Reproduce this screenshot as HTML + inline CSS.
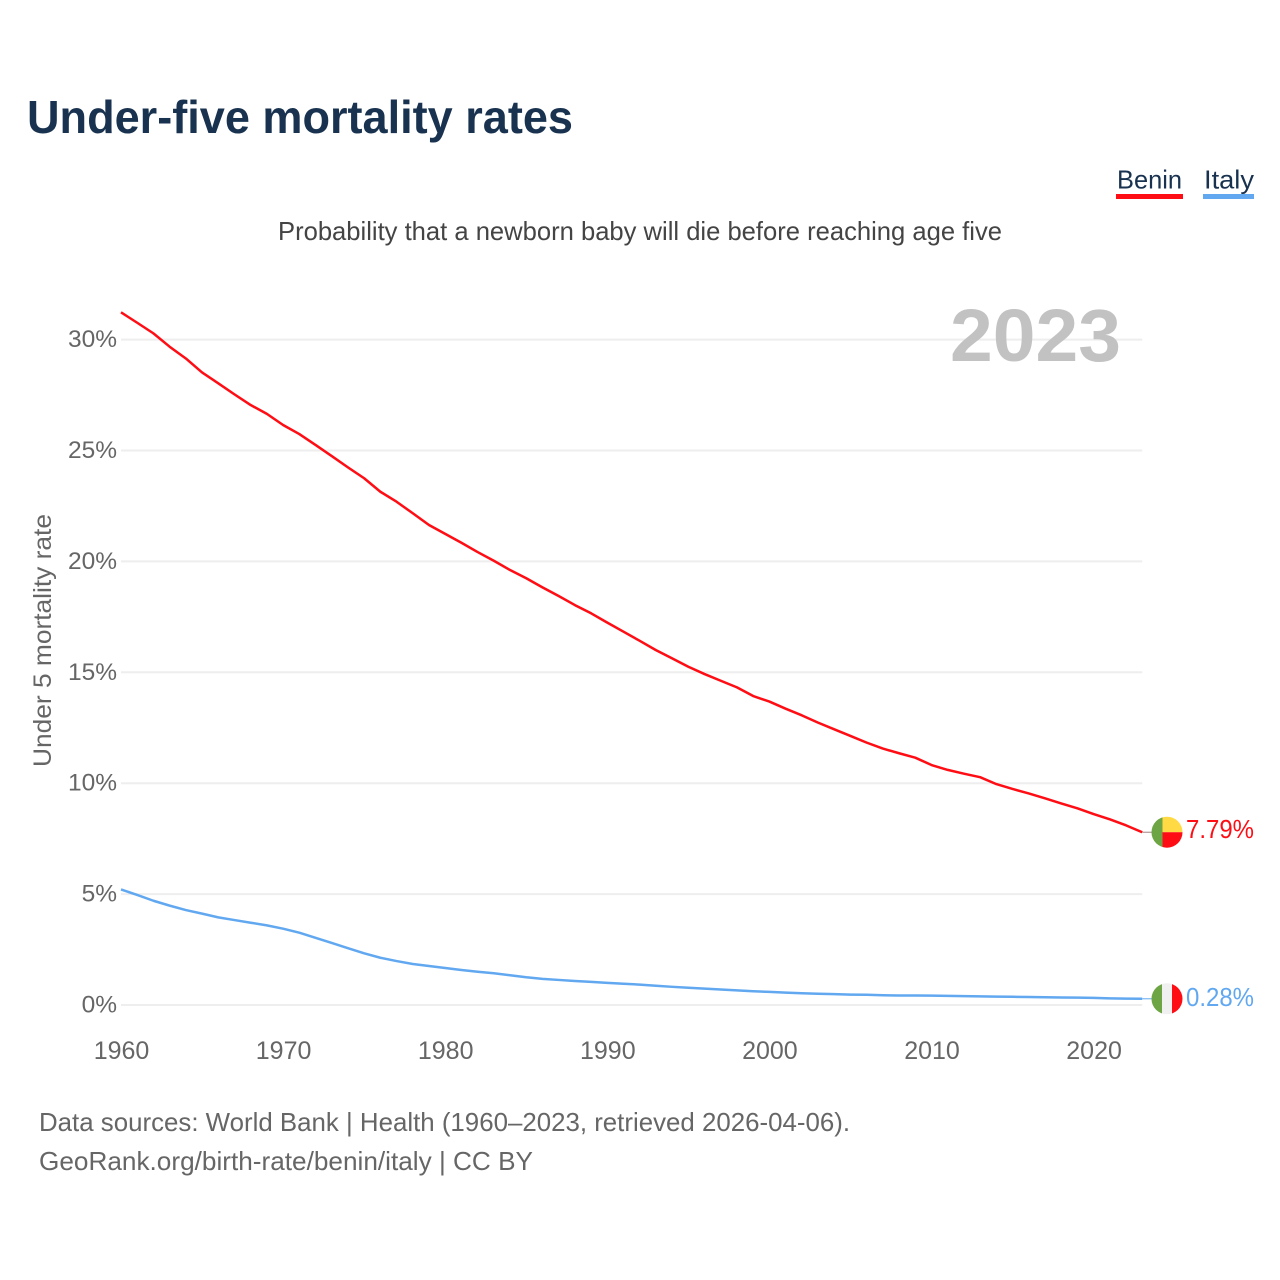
<!DOCTYPE html>
<html lang="en">
<head>
<meta charset="utf-8">
<title>Under-five mortality rates</title>
<style>
html,body{margin:0;padding:0;background:#fff;width:1280px;height:1280px;overflow:hidden}
svg{display:block}
text{font-family:"Liberation Sans",sans-serif}
</style>
</head>
<body>
<svg id="chart" width="1280" height="1280" viewBox="0 0 1280 1280" xmlns="http://www.w3.org/2000/svg">
  <rect width="1280" height="1280" fill="#fff"/>
  <text x="27" y="133" font-size="46" font-weight="700" fill="#18324f" textLength="546" lengthAdjust="spacingAndGlyphs">Under-five mortality rates</text>
  <g>
    <g>
      <text x="1117" y="188.5" font-size="26" fill="#18324f" textLength="65" lengthAdjust="spacingAndGlyphs">Benin</text>
      <rect x="1116" y="194" width="67" height="5" fill="#ff0d14"/>
    </g>
    <g>
      <text x="1204" y="188.5" font-size="26" fill="#18324f" textLength="50" lengthAdjust="spacingAndGlyphs">Italy</text>
      <rect x="1203" y="194" width="51" height="5" fill="#61a8f0"/>
    </g>
  </g>
  <text x="278" y="240" font-size="26" fill="#444" textLength="724" lengthAdjust="spacingAndGlyphs">Probability that a newborn baby will die before reaching age five</text>
  <g id="grid"></g>
  <text x="950" y="361" font-size="74" font-weight="700" fill="#c2c2c2" textLength="171" lengthAdjust="spacingAndGlyphs">2023</text>
  <text transform="translate(51,767) rotate(-90)" font-size="25" fill="#666" textLength="253" lengthAdjust="spacingAndGlyphs">Under 5 mortality rate</text>
  <g id="yticks"></g>
  <g id="xticks"></g>
  <g id="series"></g>
  <g id="flag-benin">
    <clipPath id="clip-benin"><circle cx="0" cy="0" r="15.5"/></clipPath>
    <g clip-path="url(#clip-benin)">
      <rect x="-16" y="-16" width="12" height="32" fill="#6da544"/>
      <rect x="-4.5" y="-16" width="21" height="16" fill="#ffda44"/>
      <rect x="-4.5" y="0" width="21" height="16" fill="#ff0d14"/>
    </g>
  </g>
  <g id="flag-italy">
    <clipPath id="clip-italy"><circle cx="0" cy="0" r="15.5"/></clipPath>
    <g clip-path="url(#clip-italy)">
      <rect x="-16" y="-16" width="11" height="32" fill="#6da544"/>
      <rect x="-5" y="-16" width="10" height="32" fill="#f0f0f0"/>
      <rect x="5" y="-16" width="11" height="32" fill="#ff0d14"/>
    </g>
  </g>
  <text x="39" y="1131" font-size="26" fill="#666" textLength="811" lengthAdjust="spacingAndGlyphs">Data sources: World Bank | Health (1960–2023, retrieved 2026-04-06).</text>
  <text x="39" y="1170" font-size="26" fill="#666" textLength="494" lengthAdjust="spacingAndGlyphs">GeoRank.org/birth-rate/benin/italy | CC BY</text>
</svg>
<script>
const startYear = 1960;
const yTicks = [0, 5, 10, 15, 20, 25, 30];
const xTicks = [1960, 1970, 1980, 1990, 2000, 2010, 2020];
const beninValues = [31.23,30.76,30.28,29.68,29.15,28.52,28.03,27.53,27.05,26.65,
  26.15,25.74,25.25,24.75,24.24,23.75,23.14,22.69,22.17,21.64,
  21.24,20.84,20.42,20.03,19.61,19.24,18.83,18.44,18.03,17.66,
  17.24,16.83,16.42,16.0,15.63,15.25,14.92,14.62,14.32,13.93,
  13.68,13.36,13.06,12.73,12.43,12.13,11.83,11.56,11.35,11.15,
  10.82,10.6,10.43,10.27,9.96,9.74,9.54,9.32,9.09,8.87,
  8.61,8.37,8.10,7.79];
const italyValues = [5.21,4.96,4.7,4.48,4.28,4.12,3.95,3.83,3.71,3.59,
  3.44,3.26,3.03,2.8,2.56,2.33,2.13,1.98,1.85,1.76,
  1.67,1.58,1.5,1.43,1.34,1.25,1.18,1.13,1.08,1.04,
  1.0,.96,.92,.87,.82,.78,.74,.7,.66,.62,
  .59,.56,.53,.51,.49,.47,.46,.44,.43,.43,
  .42,.41,.40,.39,.38,.37,.36,.35,.34,.33,
  .32,.30,.29,.28];

const NS = 'http://www.w3.org/2000/svg';
const xScale = function (year) { return 121 + (year - 1960) * 16.21; };
const yScale = function (v) { return 1005 - v * 22.18; };

function make(tag, attrs, text) {
  const el = document.createElementNS(NS, tag);
  for (const k in attrs) el.setAttribute(k, attrs[k]);
  if (text !== undefined) el.textContent = text;
  return el;
}

const plotRight = xScale(startYear + beninValues.length - 1);
const grid = document.getElementById('grid');
const yt = document.getElementById('yticks');
yTicks.forEach(function (t) {
  const line = make('line', {x1: 121, x2: plotRight, y1: yScale(t), y2: yScale(t), stroke: '#eeeeee', 'stroke-width': 2});
  
  
  grid.appendChild(line);
  const label = make('text', {x: 117, y: yScale(t) + 7.5, 'text-anchor': 'end', 'font-size': 24.5, fill: '#666'}, t + '%');
  
  
  yt.appendChild(label);
});

const xt = document.getElementById('xticks');
xTicks.forEach(function (t) {
  const label = make('text', {x: xScale(t) + 0.5, y: 1059, 'text-anchor': 'middle', 'font-size': 25, fill: '#666'}, String(t));
  
  
  xt.appendChild(label);
});

function pathFor(values) {
  return values.map(function (v, i) {
    return (i ? 'L' : 'M') + xScale(startYear + i).toFixed(2) + ' ' + yScale(v).toFixed(2);
  }).join(' ');
}

const seriesGroup = document.getElementById('series');

const beninLine = make('path', {d: pathFor(beninValues), fill: 'none', stroke: '#ff0d14', 'stroke-width': 2.5, 'stroke-linejoin': 'round'});


seriesGroup.appendChild(beninLine);

const italyLine = make('path', {d: pathFor(italyValues), fill: 'none', stroke: '#61a8f0', 'stroke-width': 2.5, 'stroke-linejoin': 'round'});


seriesGroup.appendChild(italyLine);

const beninEnd = yScale(beninValues[beninValues.length - 1]);
const italyEnd = yScale(italyValues[italyValues.length - 1]);

const beninConnector = make('line', {x1: plotRight, x2: 1153, y1: beninEnd, y2: beninEnd, stroke: '#a08080', 'stroke-width': 1});


seriesGroup.appendChild(beninConnector);

const italyConnector = make('line', {x1: plotRight, x2: 1153, y1: italyEnd, y2: italyEnd, stroke: '#61a8f0', 'stroke-width': 1});


seriesGroup.appendChild(italyConnector);

document.getElementById('flag-benin').setAttribute('transform', 'translate(1167,' + beninEnd + ')');
document.getElementById('flag-italy').setAttribute('transform', 'translate(1167,' + italyEnd + ')');

const beninLabel = make('text', {x: 1186, y: beninEnd + 6, 'font-size': 26, fill: '#ff0d14', textLength: 68, lengthAdjust: 'spacingAndGlyphs'}, beninValues[beninValues.length - 1].toFixed(2) + '%');


seriesGroup.appendChild(beninLabel);

const italyLabel = make('text', {x: 1186, y: italyEnd + 7, 'font-size': 26, fill: '#61a8f0', textLength: 68, lengthAdjust: 'spacingAndGlyphs'}, italyValues[italyValues.length - 1].toFixed(2) + '%');


seriesGroup.appendChild(italyLabel);
</script>
</body>
</html>
